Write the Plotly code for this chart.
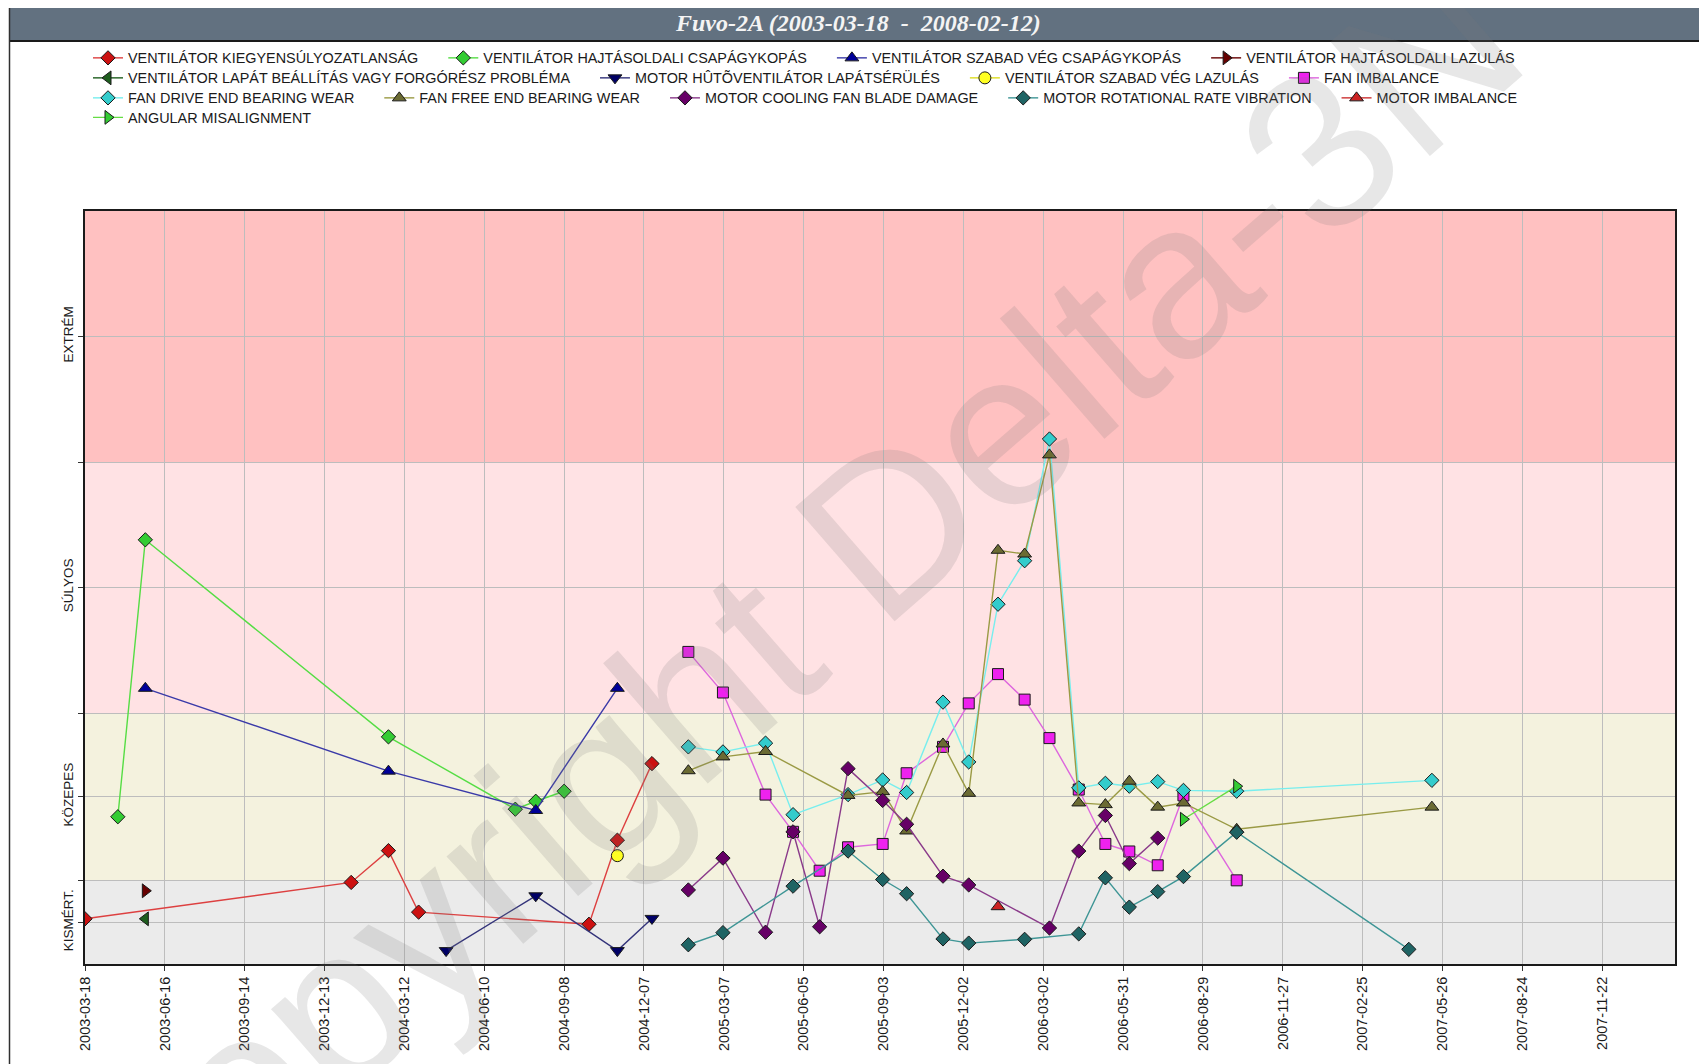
import plotly.graph_objects as go

# ---------------- data ----------------
x_tick_dates = ['2003-03-18', '2003-06-16', '2003-09-14', '2003-12-13', '2004-03-12',
                '2004-06-10', '2004-09-08', '2004-12-07', '2005-03-07', '2005-06-05',
                '2005-09-03', '2005-12-02', '2006-03-02', '2006-05-31', '2006-08-29',
                '2006-11-27', '2007-02-25', '2007-05-26', '2007-08-24', '2007-11-22']
x_range = ['2003-03-18', '2008-02-12']

y_tick_vals = [1, 2, 4, 6, 9, 12, 15]
y_tick_text = ['KISMÉRT.', '', 'KÖZEPES', '', 'SÚLYOS', '', 'EXTRÉM']
band_edges = [0, 2, 6, 12, 18]

title_text = 'Fuvo-2A (2003-03-18\u00a0 -\u00a0 2008-02-12)'
watermark_text = 'Copyright Delta-3N'

s1_name = 'VENTILÁTOR KIEGYENSÚLYOZATLANSÁG'
s1_dates = ['2003-03-18', '2004-01-12', '2004-02-23', '2004-03-28', '2004-10-06', '2004-11-07', '2004-12-16']
s1_vals = [1.08, 1.95, 2.71, 1.24, 0.95, 2.96, 4.79]

s2_name = 'VENTILÁTOR HAJTÁSOLDALI CSAPÁGYKOPÁS'
s2_dates = ['2003-04-24', '2003-05-25', '2004-02-23', '2004-07-15', '2004-08-07', '2004-09-08']
s2_vals = [3.52, 10.14, 5.43, 3.70, 3.89, 4.13]

s3_name = 'VENTILÁTOR SZABAD VÉG CSAPÁGYKOPÁS'
s3_dates = ['2003-05-25', '2004-02-23', '2004-08-07', '2004-11-07']
s3_vals = [6.59, 4.61, 3.67, 6.59]

s4_name = 'VENTILÁTOR HAJTÁSOLDALI LAZULÁS'
s4_dates = ['2003-05-25']
s4_vals = [1.75]

s5_name = 'VENTILÁTOR LAPÁT BEÁLLÍTÁS VAGY FORGÓRÉSZ PROBLÉMA'
s5_dates = ['2003-05-25']
s5_vals = [1.08]

s6_name = 'MOTOR HÛTÕVENTILÁTOR LAPÁTSÉRÜLÉS'
s6_dates = ['2004-04-28', '2004-08-07', '2004-11-07', '2004-12-16']
s6_vals = [0.32, 1.63, 0.32, 1.09]

s7_name = 'VENTILÁTOR SZABAD VÉG LAZULÁS'
s7_dates = ['2004-11-07']
s7_vals = [2.59]

s8_name = 'FAN IMBALANCE'
s8_dates = ['2005-01-26', '2005-03-06', '2005-04-23', '2005-05-24', '2005-06-23', '2005-07-25',
            '2005-09-02', '2005-09-29', '2005-11-09', '2005-12-08', '2006-01-10', '2006-02-09',
            '2006-03-09', '2006-04-11', '2006-05-11', '2006-06-07', '2006-07-09', '2006-08-07',
            '2006-10-06']
s8_vals = [7.46, 6.49, 4.05, 3.16, 2.23, 2.79, 2.87, 4.56, 5.19, 6.23, 6.93, 6.32, 5.40, 4.17,
           2.87, 2.69, 2.36, 4.03, 2.0]

s9_name = 'FAN DRIVE END BEARING WEAR'
s9_dates = ['2005-01-26', '2005-03-06', '2005-04-23', '2005-05-24', '2005-07-25', '2005-09-02',
            '2005-09-29', '2005-11-09', '2005-12-08', '2006-01-10', '2006-02-09', '2006-03-09',
            '2006-04-11', '2006-05-11', '2006-06-07', '2006-07-09', '2006-08-07', '2006-10-06',
            '2007-05-14']
s9_vals = [5.19, 5.07, 5.28, 3.57, 4.05, 4.40, 4.10, 6.26, 4.83, 8.60, 9.64, 12.55, 4.21, 4.32,
           4.25, 4.36, 4.15, 4.13, 4.39]

s10_name = 'FAN FREE END BEARING WEAR'
s10_dates = ['2005-01-26', '2005-03-06', '2005-04-23', '2005-07-25', '2005-09-02', '2005-09-29',
             '2005-11-09', '2005-12-08', '2006-01-10', '2006-02-09', '2006-03-09', '2006-04-11',
             '2006-05-11', '2006-06-07', '2006-07-09', '2006-08-07', '2006-10-06', '2007-05-14']
s10_vals = [4.62, 4.95, 5.08, 4.03, 4.12, 3.18, 5.26, 4.08, 9.89, 9.80, 12.17, 3.85, 3.81, 4.37,
            3.75, 3.85, 3.22, 3.75]

s11_name = 'MOTOR COOLING FAN BLADE DAMAGE'
s11_dates = ['2005-01-26', '2005-03-06', '2005-04-23', '2005-05-24', '2005-06-23', '2005-07-25',
             '2005-09-02', '2005-09-29', '2005-11-09', '2005-12-08', '2006-03-09', '2006-04-11',
             '2006-05-11', '2006-06-07', '2006-07-09']
s11_vals = [1.77, 2.53, 0.76, 3.16, 0.89, 4.67, 3.91, 3.34, 2.10, 1.89, 0.86, 2.70, 3.55, 2.40, 3.01]

s12_name = 'MOTOR ROTATIONAL RATE VIBRATION'
s12_dates = ['2005-01-26', '2005-03-06', '2005-05-24', '2005-07-25', '2005-09-02', '2005-09-29',
             '2005-11-09', '2005-12-08', '2006-02-09', '2006-04-11', '2006-05-11', '2006-06-07',
             '2006-07-09', '2006-08-07', '2006-10-06', '2007-04-18']
s12_vals = [0.46, 0.75, 1.86, 2.70, 2.02, 1.68, 0.60, 0.50, 0.59, 0.72, 2.06, 1.36, 1.73, 2.09,
            3.15, 0.35]

s13_name = 'MOTOR IMBALANCE'
s13_dates = ['2006-01-10']
s13_vals = [1.37]

s14_name = 'ANGULAR MISALIGNMENT'
s14_dates = ['2006-08-07', '2006-10-06']
s14_vals = [3.46, 4.25]

# ---------------- styles ----------------
# page coordinates (the page body adds an 8px margin around the figure)
OFF = 8
PAGE_W, PAGE_H = 1707, 1064
W, H = PAGE_W - OFF, PAGE_H - OFF
PL, PR, PT, PB = 85, 1675, 211, 964

band_colors = ['#EBEBEB', '#F4F2DE', '#FFE2E4', '#FFC1C1']

series = [
    (s1_name, s1_dates, s1_vals, 'diamond', '#CC1111', '#DD4040', 'legend'),
    (s2_name, s2_dates, s2_vals, 'diamond', '#33CC33', '#55DD44', 'legend'),
    (s3_name, s3_dates, s3_vals, 'triangle-up', '#000099', '#3A3AA8', 'legend'),
    (s4_name, s4_dates, s4_vals, 'triangle-right', '#660000', '#660000', 'legend'),
    (s5_name, s5_dates, s5_vals, 'triangle-left', '#1E5E1E', '#1E5E1E', 'legend2'),
    (s6_name, s6_dates, s6_vals, 'triangle-down', '#000066', '#33337A', 'legend2'),
    (s7_name, s7_dates, s7_vals, 'circle', '#FFFF22', '#DDDD22', 'legend2'),
    (s8_name, s8_dates, s8_vals, 'square', '#EE22EE', '#DD66DD', 'legend2'),
    (s9_name, s9_dates, s9_vals, 'diamond', '#33CCCC', '#77EEEE', 'legend3'),
    (s10_name, s10_dates, s10_vals, 'triangle-up', '#6B6B33', '#9A9A44', 'legend3'),
    (s11_name, s11_dates, s11_vals, 'diamond', '#660066', '#8A3A8A', 'legend3'),
    (s12_name, s12_dates, s12_vals, 'diamond', '#1F6464', '#3E9595', 'legend3'),
    (s13_name, s13_dates, s13_vals, 'triangle-up', '#CC2222', '#CC3333', 'legend3'),
    (s14_name, s14_dates, s14_vals, 'triangle-right', '#33CC33', '#66DD44', 'legend4'),
]
marker_sizes = {'diamond': 11, 'square': 11, 'circle': 12, 'triangle-up': 12,
                'triangle-down': 12, 'triangle-left': 12, 'triangle-right': 12}

FONT = 'Liberation Sans, Arial, sans-serif'
PAD = '\u00a0' * 5

fig = go.Figure()
for name, xs, ys, sym, mcol, lcol, leg in series:
    fig.add_trace(go.Scatter(
        x=xs, y=ys, name=name + PAD, mode='lines+markers', legend=leg,
        line=dict(color=lcol, width=1.4),
        marker=dict(symbol=sym, size=marker_sizes[sym], color=mcol,
                    line=dict(color='#1A1A1A', width=1)),
    ))


def fx(px):
    return (px - PL) / (PR - PL)


def fy(py):
    return (PB - py) / (PB - PT)


def cx(px):
    return (px - OFF) / W


def cy(py):
    return 1 - (py - OFF) / H


shapes = []
for i in range(4):
    shapes.append(dict(type='rect', xref='paper', yref='y', x0=0, x1=1,
                       y0=band_edges[i], y1=band_edges[i + 1],
                       fillcolor=band_colors[i], line=dict(width=0), layer='below'))
# title bar and frame
shapes.append(dict(type='rect', xref='paper', yref='paper', x0=fx(9), x1=fx(1712),
                   y0=fy(41), y1=fy(5), fillcolor='#627180', line=dict(width=0), layer='below'))
shapes.append(dict(type='line', xref='paper', yref='paper', x0=fx(9), x1=fx(1712),
                   y0=fy(5), y1=fy(5), line=dict(color='#202020', width=1.5)))
shapes.append(dict(type='line', xref='paper', yref='paper', x0=fx(9), x1=fx(1712),
                   y0=fy(41), y1=fy(41), line=dict(color='#1A1A1A', width=2)))
shapes.append(dict(type='line', xref='paper', yref='paper', x0=fx(9.5), x1=fx(9.5),
                   y0=fy(5), y1=fy(1070), line=dict(color='#303030', width=1.5)))

annotations = [
    dict(text=title_text, xref='paper', yref='paper', x=fx(858), y=fy(23),
         xanchor='center', yanchor='middle', showarrow=False,
         font=dict(family='Liberation Serif, Times New Roman, serif', size=24,
                   color='#F4F4F4', weight='bold', style='italic')),
    dict(text=watermark_text, xref='paper', yref='paper', x=fx(780), y=fy(620),
         xanchor='center', yanchor='middle', showarrow=False, textangle=-41,
         font=dict(family=FONT, size=220, color='rgba(120,120,120,0.18)')),
]

leg_common = dict(orientation='h', xref='container', yref='container', xanchor='left',
                  yanchor='middle', bgcolor='rgba(0,0,0,0)', borderwidth=0,
                  font=dict(family=FONT, size=14.4, color='#1A1A1A'))
legend_rows_y = [58, 78, 98, 117.5]
legend_x = 88

fig.update_layout(
    width=W, height=H,
    margin=dict(l=PL - OFF, r=PAGE_W - PR, t=PT - OFF, b=PAGE_H - PB),
    paper_bgcolor='white', plot_bgcolor='white',
    showlegend=True,
    shapes=shapes, annotations=annotations,
    legend=dict(leg_common, x=cx(legend_x), y=cy(legend_rows_y[0])),
    legend2=dict(leg_common, x=cx(legend_x), y=cy(legend_rows_y[1])),
    legend3=dict(leg_common, x=cx(legend_x), y=cy(legend_rows_y[2])),
    legend4=dict(leg_common, x=cx(legend_x), y=cy(legend_rows_y[3])),
    xaxis=dict(type='date', range=x_range, tickvals=x_tick_dates, ticktext=x_tick_dates,
               tickangle=-90, tickfont=dict(family=FONT, size=14.5, color='#1A1A1A'),
               showgrid=True, gridcolor='#BDBDBD', gridwidth=1,
               showline=True, linecolor='#1A1A1A', linewidth=2, mirror=True,
               ticks='outside', ticklen=5, tickcolor='#333333', zeroline=False),
    yaxis=dict(range=[0, 18], tickvals=y_tick_vals, ticktext=y_tick_text,
               tickangle=-90, tickfont=dict(family=FONT, size=13.5, color='#1A1A1A'),
               showgrid=True, gridcolor='#BDBDBD', gridwidth=1,
               showline=True, linecolor='#1A1A1A', linewidth=1.5, mirror=True,
               ticks='outside', ticklen=5, tickcolor='#333333', zeroline=False),
)

fig.write_html('out.html')
